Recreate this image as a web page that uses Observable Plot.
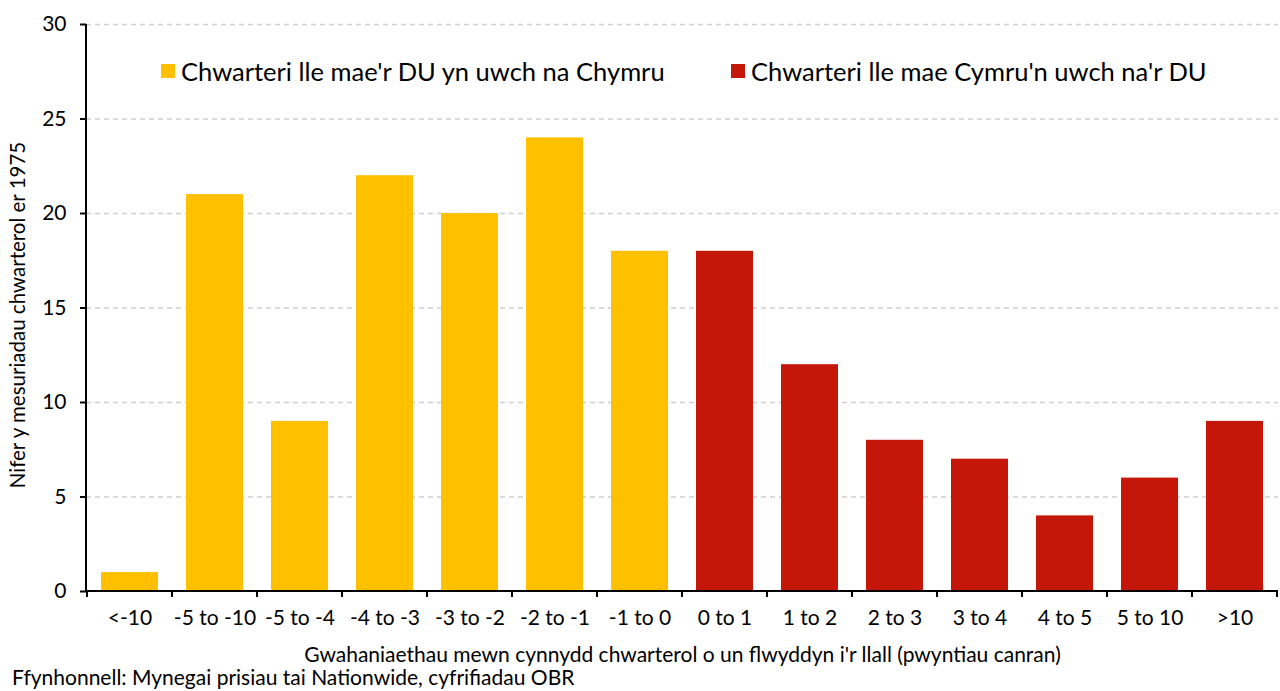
<!DOCTYPE html>
<html>
<head>
<meta charset="utf-8">
<script src="https://cdn.jsdelivr.net/npm/d3@7"></script>
<script src="https://cdn.jsdelivr.net/npm/@observablehq/plot@0.6"></script>
<style>
  body { margin: 0; background: #fff; font-family: "Lato", sans-serif; color: #000; }
  #wrap { position: relative; width: 1280px; }
  .legend { position: absolute; top: 55px; font-size: 25.5px; line-height: 32px; display: flex; align-items: center; white-space: nowrap; }
  .legend .sw { width: 14px; height: 14px; margin-right: 6px; display: inline-block; }
  #source { font-size: 21px; margin-left: 12px; margin-top: -5px; line-height: 24px; }
</style>
</head>
<body>
<div id="wrap">
  <div id="chart"></div>
  <div class="legend" style="left:161px"><span class="sw" style="background:#FFC000"></span>Chwarteri lle mae'r DU yn uwch na Chymru</div>
  <div class="legend" style="left:731px"><span class="sw" style="background:#C4170A"></span>Chwarteri lle mae Cymru'n uwch na'r DU</div>
  <div id="source">Ffynhonnell: Mynegai prisiau tai Nationwide, cyfrifiadau OBR</div>
</div>
<script>
const categories = ["<-10", "-5 to -10", "-5 to -4", "-4 to -3", "-3 to -2", "-2 to -1", "-1 to 0",
                    "0 to 1", "1 to 2", "2 to 3", "3 to 4", "4 to 5", "5 to 10", ">10"];
const counts = [1, 21, 9, 22, 20, 24, 18, 18, 12, 8, 7, 4, 6, 9];
const groups = ["uk", "uk", "uk", "uk", "uk", "uk", "uk", "wales", "wales", "wales", "wales", "wales", "wales", "wales"];
const groupNames = ["uk", "wales"];
const groupColors = ["#FFC000", "#C4170A"];
const yTicks = [0, 5, 10, 15, 20, 25, 30];
const xTitle = "Gwahaniaethau mewn cynnydd chwarterol o un flwyddyn i'r llall (pwyntiau canran)";
const yTitle = "Nifer y mesuriadau chwarterol er 1975";

const data = categories.map((c, i) => ({cat: c, value: counts[i], group: groups[i]}));

// axis lines + tick marks between categories (Excel-style)
function categoryAxis(index, scales, values, dims) {
  const x = scales.x, y = scales.y;
  const g = d3.create("svg:g").attr("stroke", "#000").attr("stroke-width", 2).attr("fill", "none");
  const y0 = y(0);
  const left = dims.marginLeft, right = dims.width - dims.marginRight;
  g.append("line").attr("x1", left).attr("x2", right).attr("y1", y0).attr("y2", y0);
  g.append("line").attr("x1", left).attr("x2", left).attr("y1", dims.marginTop).attr("y2", y0);
  const step = x.step();
  const bounds = categories.map(c => x(c) - (step - x.bandwidth()) / 2);
  bounds.push(bounds[bounds.length - 1] + step);
  for (const b of bounds) {
    g.append("line").attr("x1", b).attr("x2", b).attr("y1", y0).attr("y2", y0 + 6);
  }
  return g.node();
}

const chart = Plot.plot({
  width: 1280,
  height: 670,
  marginLeft: 86,
  marginRight: 2,
  marginTop: 24,
  marginBottom: 79,
  style: {fontFamily: "Lato, sans-serif", fontSize: "21px", color: "#000", background: "#fff"},
  x: {domain: categories, paddingInner: 0.33, paddingOuter: 0.165, label: null},
  y: {domain: [0, 30], label: null},
  color: {domain: groupNames, range: groupColors},
  marks: [
    Plot.gridY(yTicks.filter(d => d > 0), {stroke: "#d0d0d0", strokeOpacity: 1, strokeDasharray: "5,4", strokeWidth: 1.5}),
    Plot.barY(data, {x: "cat", y: "value", fill: "group"}),
    Plot.axisY(yTicks, {tickSize: 6, tickPadding: 14, strokeWidth: 2, fontSize: 21, label: null}),
    Plot.axisX({tickSize: 0, tickPadding: 19, fontSize: 21, label: null}),
    Plot.text([xTitle], {frameAnchor: "bottom", dy: 70, fontSize: 21, lineAnchor: "bottom"}),
    Plot.text([yTitle], {frameAnchor: "left", dx: -68, dy: 7, rotate: -90, textAnchor: "middle", fontSize: 20.5}),
    categoryAxis
  ]
});
document.getElementById("chart").appendChild(chart);
</script>
</body>
</html>
